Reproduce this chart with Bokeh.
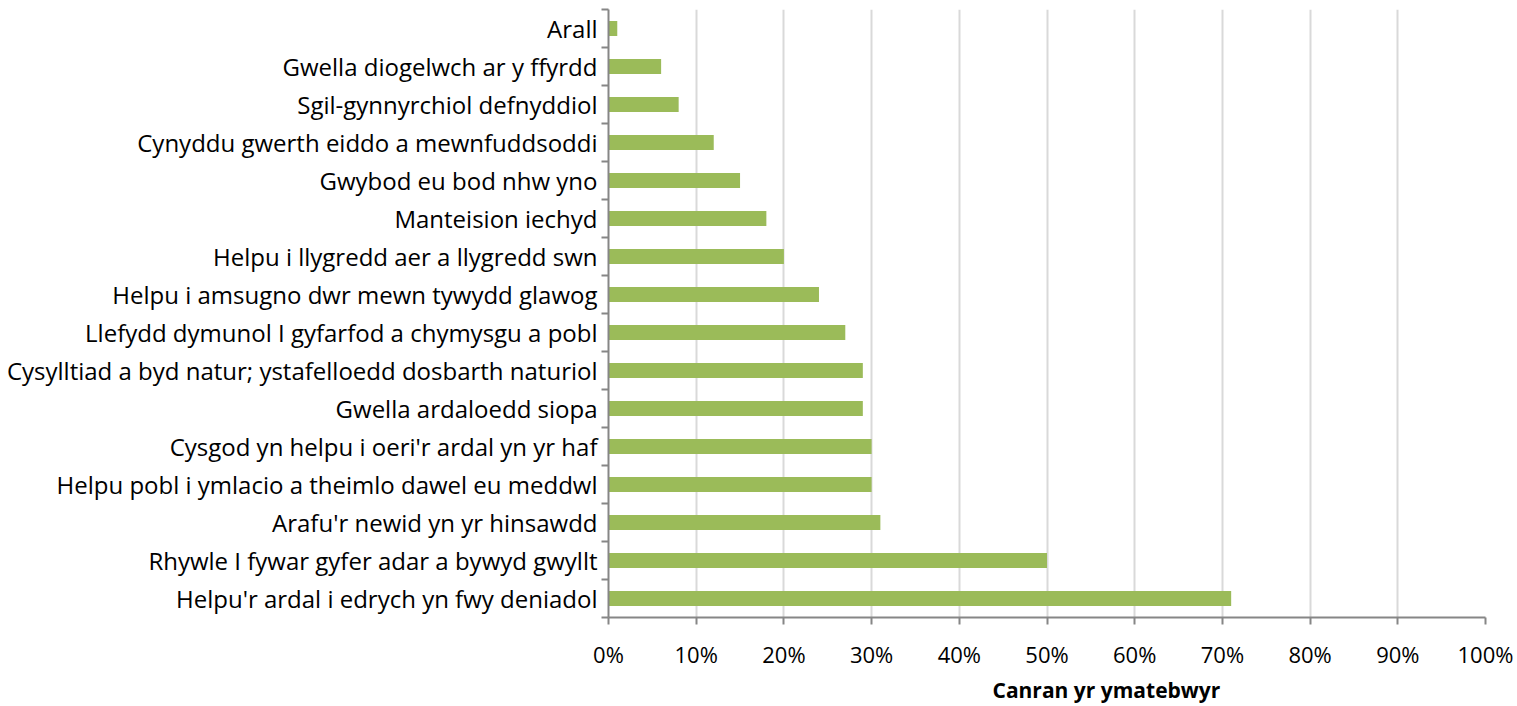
from bokeh.plotting import figure
from bokeh.models import FixedTicker, Title
from bokeh.embed import file_html
from bokeh.resources import INLINE

categories = [
    "Arall",
    "Gwella diogelwch ar y ffyrdd",
    "Sgil-gynnyrchiol defnyddiol",
    "Cynyddu gwerth eiddo a mewnfuddsoddi",
    "Gwybod eu bod nhw yno",
    "Manteision iechyd",
    "Helpu i llygredd aer a llygredd swn",
    "Helpu i amsugno dwr mewn tywydd glawog",
    "Llefydd dymunol I gyfarfod a chymysgu a pobl",
    "Cysylltiad a byd natur; ystafelloedd dosbarth naturiol",
    "Gwella ardaloedd siopa",
    "Cysgod yn helpu i oeri'r ardal yn yr haf",
    "Helpu pobl i ymlacio a theimlo dawel eu meddwl",
    "Arafu'r newid yn yr hinsawdd",
    "Rhywle I fywar gyfer adar a bywyd gwyllt",
    "Helpu'r ardal i edrych yn fwy deniadol",
]
values = [1, 6, 8, 12, 15, 18, 20, 24, 27, 29, 29, 30, 30, 31, 50, 71]
x_ticks = [0, 10, 20, 30, 40, 50, 60, 70, 80, 90, 100]
x_title = "Canran yr ymatebwyr"

n = len(categories)
ys = [n - i - 0.5 for i in range(n)]

FONT = "Open Sans"

p = figure(width=1517, height=706, x_range=(0, 100), y_range=(0, n),
           output_backend="svg", toolbar_location=None,
           min_border_left=608, min_border_right=32,
           min_border_top=9, min_border_bottom=89)
p.outline_line_color = None
p.background_fill_color = "white"

p.hbar(y=ys, right=values, left=0, height=0.4, color="#9BBB59", line_color=None)

# x axis
p.xaxis.ticker = FixedTicker(ticks=x_ticks)
p.xaxis.major_label_overrides = {t: f"{t}%" for t in x_ticks}
p.xaxis.axis_line_color = "#868686"
p.xaxis.axis_line_width = 2
p.xaxis.major_tick_line_color = "#868686"
p.xaxis.major_tick_line_width = 2
p.xaxis.major_tick_out = 7
p.xaxis.major_tick_in = 0
p.xaxis.minor_tick_line_color = None
p.xaxis.major_label_standoff = 14
p.xaxis.major_label_text_font = FONT
p.xaxis.major_label_text_font_size = "22px"
p.xaxis.major_label_text_color = "black"

# y axis
p.yaxis.ticker = FixedTicker(ticks=ys, minor_ticks=list(range(n + 1)))
p.yaxis.major_label_overrides = {y: c for y, c in zip(ys, categories)}
p.yaxis.axis_line_color = "#868686"
p.yaxis.axis_line_width = 2
p.yaxis.major_tick_line_color = None
p.yaxis.major_tick_out = 0
p.yaxis.major_tick_in = 0
p.yaxis.minor_tick_line_color = "#868686"
p.yaxis.minor_tick_line_width = 2
p.yaxis.minor_tick_out = 7
p.yaxis.minor_tick_in = 0
p.yaxis.major_label_standoff = 4
p.yaxis.major_label_text_font = FONT
p.yaxis.major_label_text_font_size = "24px"
p.yaxis.major_label_text_color = "black"

p.xgrid.ticker = FixedTicker(ticks=x_ticks[1:])
p.xgrid.grid_line_color = "#D9D9D9"
p.xgrid.grid_line_width = 2
p.ygrid.grid_line_color = None

t = Title(text=x_title, align="left", offset=384, text_font=FONT,
          text_font_size="21px", text_font_style="bold", text_color="black",
          standoff=5)
p.add_layout(t, "below")

open("out.html", "w").write(file_html(p, INLINE))
